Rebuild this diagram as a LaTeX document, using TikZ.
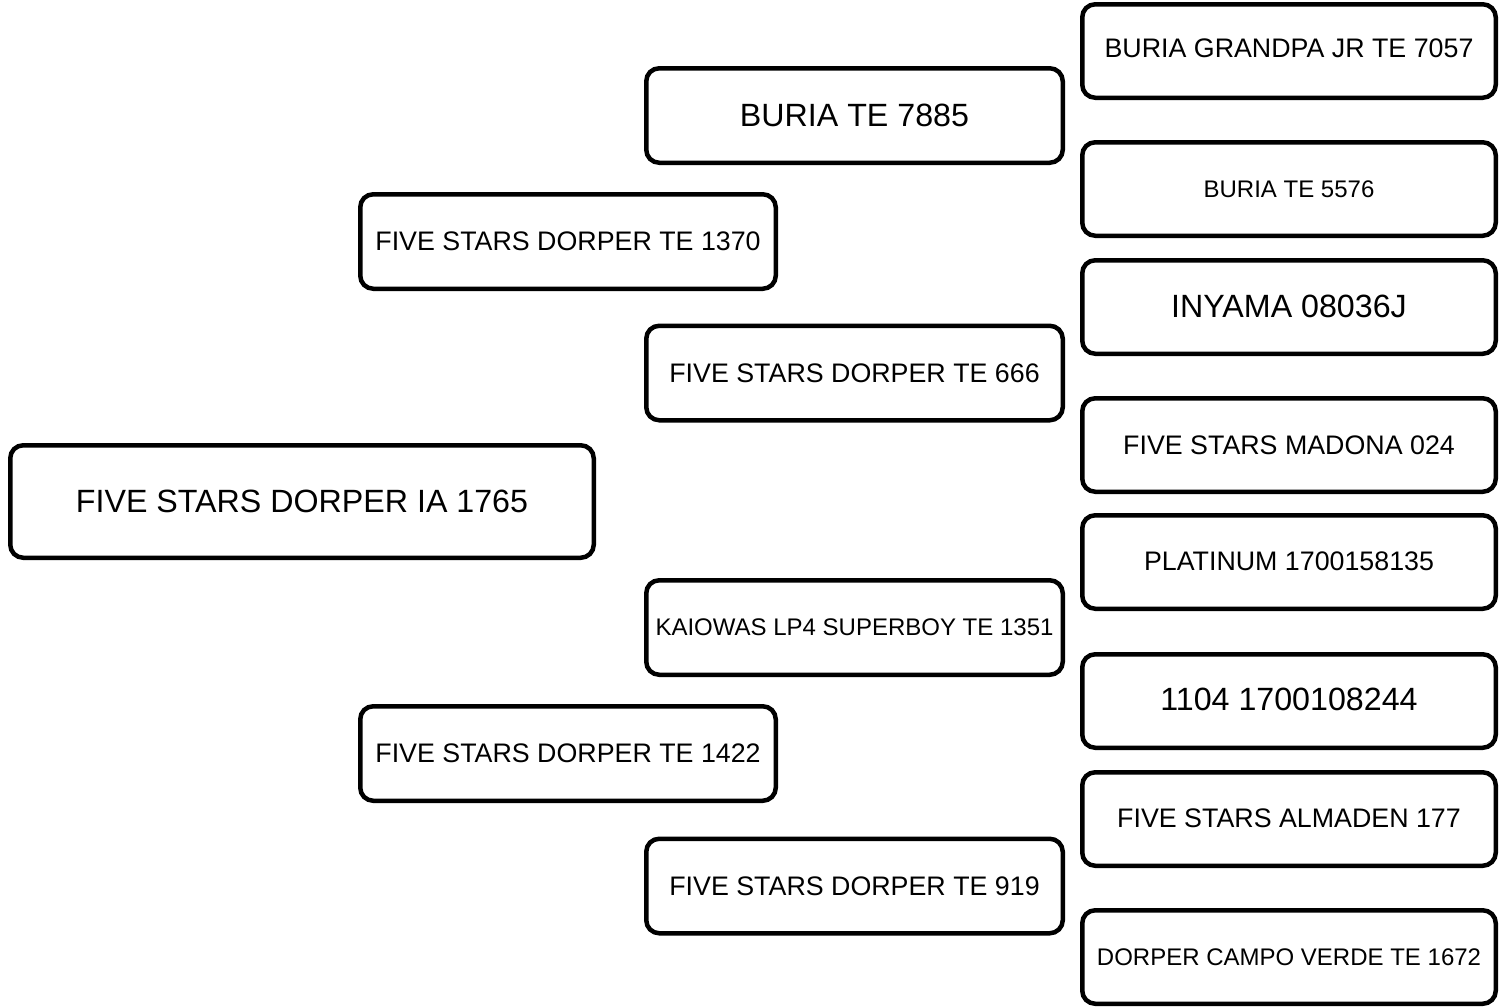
\documentclass[tikz,border=0pt]{standalone}
\usepackage{fontspec}
\setmainfont{Liberation Sans}
\tikzset{
  pbox/.style={draw=black, line width=4.5pt, rounded corners=13pt, fill=white, inner sep=0pt, align=center},
  big/.style={font=\fontsize{32.2}{36}\selectfont},
  mid/.style={font=\fontsize{26.8}{31}\selectfont},
  small/.style={font=\fontsize{24}{28}\selectfont},
  rootbox/.style={pbox, minimum width=583.5pt, minimum height=112.5pt},
  genone/.style={pbox, minimum width=415.5pt, minimum height=94.5pt},
  gentwo/.style={pbox, minimum width=416.5pt, minimum height=94.5pt},
  genthree/.style={pbox, minimum width=413.5pt, minimum height=93.5pt}
}
\begin{document}
\begin{tikzpicture}[x=1pt,y=-1pt]
\useasboundingbox (0,0) rectangle (1499,1007);
% root
\node[rootbox, big] (root) at (302,501.5) {FIVE STARS DORPER IA 1765};
% generation 1
\node[genone, mid] (s) at (568,241.5) {FIVE STARS DORPER TE 1370};
\node[genone, mid] (d) at (568,753.5) {FIVE STARS DORPER TE 1422};
% generation 2
\node[gentwo, big] (ss) at (854.5,115.5) {BURIA TE 7885};
\node[gentwo, mid] (sd) at (854.5,373) {FIVE STARS DORPER TE 666};
\node[gentwo, small] (ds) at (854.5,627.5) {KAIOWAS LP4 SUPERBOY TE 1351};
\node[gentwo, mid] (dd) at (854.5,886) {FIVE STARS DORPER TE 919};
% generation 3
\node[genthree, mid] (sss) at (1289,51) {\raisebox{5pt}{BURIA GRANDPA JR TE 7057}};
\node[genthree, small] (ssd) at (1289,189) {BURIA TE 5576};
\node[genthree, big] (sds) at (1289,307) {\raisebox{2pt}{INYAMA 08036J}};
\node[genthree, mid] (sdd) at (1289,445) {FIVE STARS MADONA 024};
\node[genthree, mid] (dss) at (1289,562) {\raisebox{2pt}{PLATINUM 1700158135}};
\node[genthree, big] (dsd) at (1289,701) {\raisebox{3pt}{1104 1700108244}};
\node[genthree, mid] (dds) at (1289,819) {\raisebox{2pt}{FIVE STARS ALMADEN 177}};
\node[genthree, small] (ddd) at (1289,957) {DORPER CAMPO VERDE TE 1672};
\end{tikzpicture}
\end{document}
